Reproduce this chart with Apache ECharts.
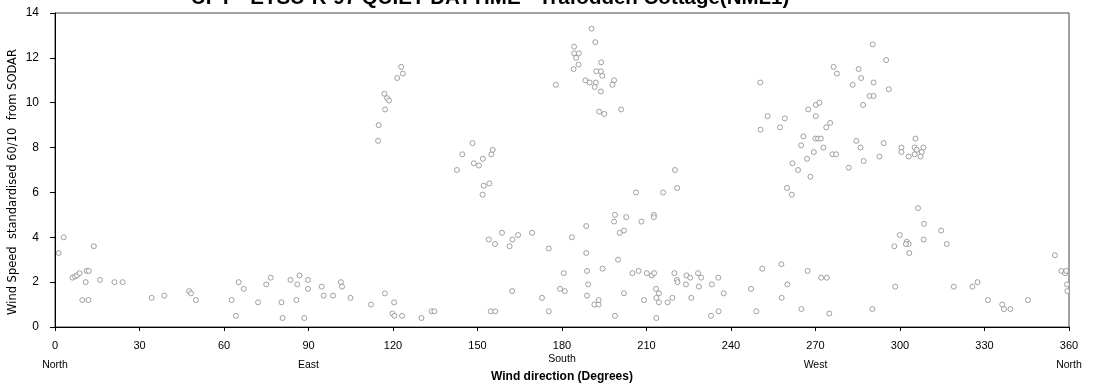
<!DOCTYPE html>
<html>
<head>
<meta charset="utf-8">
<script src="https://cdn.jsdelivr.net/npm/echarts@6/dist/echarts.min.js"></script>
<style>
html,body{margin:0;padding:0;background:#fff;}
#chart{width:1096px;height:387px;}
</style>
</head>
<body>
<div id="chart"></div>
<script>
var titleText = 'UPT - ETSU-R-97 QUIET DAYTIME - Trafodden Cottage(NML1)';
var yAxisTitle = 'Wind Speed  standardised 60/10  from SODAR';
var xAxisTitle = 'Wind direction (Degrees)';
var xTicks = [0, 30, 60, 90, 120, 150, 180, 210, 240, 270, 300, 330, 360];
var yTicks = [0, 2, 4, 6, 8, 10, 12, 14];
var compassDeg = [0, 90, 180, 270, 360];
var compassName = ['North', 'East', 'South', 'West', 'North'];

var direction = [
1.3,3.1,6.2,7.1,7.8,8.7,11.2,12.0,10.9,9.7,11.9,13.8,16.0,21.1,24.0,34.3,38.8,47.6,48.3,50.0,
62.7,64.2,65.2,67.0,72.1,75.0,76.6,80.4,80.8,83.6,86.0,86.8,85.7,88.5,89.8,89.8,94.7,95.4,98.7,101.5,
101.9,104.9,112.2,114.7,114.9,117.1,117.2,116.9,117.9,118.6,120.4,119.8,120.5,121.5,122.9,123.5,123.2,130.1,133.7,134.7,
142.7,144.6,148.2,148.7,150.5,151.9,154.9,155.4,152.2,154.2,151.8,154.0,156.2,158.7,161.4,162.4,164.4,169.4,162.3,154.7,
156.3,175.3,172.9,175.3,177.8,183.5,180.6,179.3,181.0,188.6,188.6,188.9,189.3,188.9,191.5,193.0,193.0,184.3,184.3,186.0,
185.0,185.9,184.1,190.5,191.8,192.2,188.3,189.8,192.0,191.6,193.2,193.9,193.8,194.3,198.5,197.9,193.8,195.0,201.0,206.3,
215.9,220.1,220.9,198.8,198.5,202.8,208.2,212.6,212.6,200.5,202.0,199.9,194.4,205.0,207.2,210.1,211.9,212.7,202.0,209.1,
213.4,214.4,213.5,214.4,217.5,219.2,219.9,220.8,221.0,224.2,225.5,224.0,225.9,228.3,229.4,228.6,233.2,235.5,237.4,232.9,
235.6,198.8,213.5,247.1,251.1,257.9,260.0,258.0,249.0,265.0,267.2,272.0,274.0,274.9,250.4,250.5,253.0,257.4,259.1,261.8,
263.8,259.9,261.6,265.7,264.9,267.0,268.2,269.4,267.4,270.1,271.4,270.1,270.0,270.9,271.9,272.8,273.8,275.2,276.0,277.3,
276.4,277.6,281.8,283.2,284.5,286.0,287.1,285.3,286.2,286.9,289.2,290.6,290.3,290.6,295.1,296.0,294.2,292.7,290.2,300.5,
300.5,303.1,305.5,305.2,305.9,305.2,307.7,307.3,308.3,306.4,308.5,314.6,316.6,308.4,299.9,298.0,302.4,303.1,302.1,303.3,
298.3,319.1,325.7,327.5,331.2,336.3,336.9,339.2,345.4,355.0,357.3,358.6,359.0,359.3,359.4
];
var speed = [
3.3,4.0,2.2,2.25,2.3,2.4,2.5,2.5,2.0,1.2,1.2,3.6,2.1,2.0,2.0,1.3,1.4,1.6,1.5,1.2,
1.2,0.5,2.0,1.7,1.1,1.9,2.2,1.1,0.4,2.1,1.9,2.3,1.2,0.4,2.1,1.7,1.8,1.4,1.4,2.0,
1.8,1.3,1.0,8.3,9.0,1.5,9.7,10.4,10.2,10.1,1.1,0.6,0.5,11.1,11.6,11.3,0.5,0.4,0.7,0.7,
7.0,7.7,8.2,7.3,7.2,7.5,7.7,7.9,6.3,6.4,5.9,3.9,3.7,4.2,3.6,3.9,4.1,4.2,1.6,0.7,
0.7,3.5,1.3,0.7,10.8,4.0,2.4,1.7,1.6,4.5,3.3,2.5,1.9,1.4,1.0,1.0,1.2,12.5,12.2,12.2,
12.0,11.7,11.5,13.3,12.7,11.4,11.0,10.9,10.9,10.7,9.6,11.8,11.4,11.2,11.0,10.8,10.5,9.5,9.7,6.0,
6.0,7.0,6.2,5.0,4.7,4.9,4.7,5.0,4.9,4.2,4.3,3.0,2.6,2.4,2.5,2.4,2.3,2.4,1.5,1.2,
1.7,1.5,1.3,1.1,1.1,1.3,2.4,2.1,2.0,2.3,2.2,1.9,1.3,2.4,2.2,1.8,1.9,2.2,1.5,0.5,
0.7,0.5,0.4,1.7,2.6,2.8,1.9,1.3,0.7,0.8,2.5,2.2,2.2,0.6,10.9,8.8,9.4,8.9,9.3,7.3,
7.0,6.2,5.9,8.5,8.1,7.5,6.7,7.8,9.7,9.9,10.0,9.4,8.4,8.4,8.4,8.0,8.9,9.1,7.7,7.7,
11.6,11.3,7.1,10.8,8.3,8.0,7.4,11.5,11.1,9.9,10.3,10.3,12.6,10.9,11.9,10.6,8.2,7.6,0.8,8.0,
7.8,7.6,8.4,8.0,7.9,7.7,7.8,7.6,8.0,5.3,4.6,4.3,3.7,3.9,4.1,3.6,3.8,3.7,3.7,3.3,
1.8,1.8,1.8,2.0,1.2,1.0,0.8,0.8,1.2,3.2,2.5,2.4,2.5,1.9,1.6
];

var points = direction.map(function (d, i) { return [d, speed[i]]; });
var sans = "'Liberation Sans', Arial, sans-serif";

var chart = echarts.init(document.getElementById('chart'), null, {renderer: 'canvas'});
chart.setOption({
  animation: false,
  backgroundColor: '#ffffff',
  title: {
    text: titleText,
    left: 186,
    top: -17,
    textStyle: {fontFamily: sans, fontWeight: 'bold', fontSize: 20.5, color: '#000'}
  },
  graphic: [{
    type: 'text',
    rotation: Math.PI / 2,
    style: {
      text: yAxisTitle,
      fill: '#000',
      font: "11.5px 'DejaVu Sans', sans-serif",
      textAlign: 'center',
      textVerticalAlign: 'middle'
    },
    x: 13, y: 182
  }],
  grid: {left: 55, right: 27, top: 13, bottom: 60, containLabel: false, outerBoundsMode: 'none',
         show: true, borderColor: '#444', borderWidth: 1, backgroundColor: '#fff'},
  xAxis: {
    type: 'value',
    min: xTicks[0], max: xTicks[xTicks.length - 1], interval: 30,
    splitLine: {show: false},
    axisLine: {onZero: false, lineStyle: {color: '#000', width: 1}},
    axisTick: {show: true, length: 4, lineStyle: {color: '#000'}},
    name: xAxisTitle,
    nameLocation: 'middle',
    nameGap: 44,
    nameMoveOverlap: false,
    nameTextStyle: {fontFamily: sans, fontSize: 12, fontWeight: 'bold', color: '#000'},
    axisLabel: {
      margin: 13,
      fontFamily: sans,
      fontSize: 11,
      color: '#000',
      formatter: function (v) {
        var k = compassDeg.indexOf(v);
        if (k < 0) return String(v);
        var key = compassName[k] === 'South' ? 's' : 'n';
        return v + '\n{' + key + '|' + compassName[k] + '}';
      },
      rich: {
        n: {fontFamily: sans, fontSize: 10.5, color: '#000', lineHeight: 28},
        s: {fontFamily: sans, fontSize: 10.5, color: '#000', lineHeight: 16}
      }
    }
  },
  yAxis: {
    type: 'value',
    min: yTicks[0], max: yTicks[yTicks.length - 1], interval: 2,
    splitLine: {show: false},
    axisLine: {onZero: false, lineStyle: {color: '#000', width: 1}},
    axisTick: {show: true, length: 5, lineStyle: {color: '#000'}},
    axisLabel: {margin: 16, fontFamily: sans, fontSize: 12, color: '#000'}
  },
  series: [{
    type: 'scatter',
    data: points,
    symbol: 'circle',
    symbolSize: 5,
    itemStyle: {color: '#ffffff', borderColor: '#8a8a8a', borderWidth: 1},
    emphasis: {disabled: true}
  }]
});
</script>
</body>
</html>
